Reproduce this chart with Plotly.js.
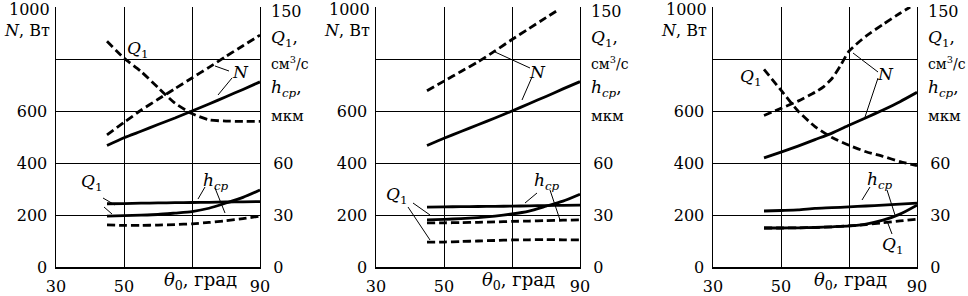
<!DOCTYPE html>
<html>
<head>
<meta charset="utf-8">
<script src="https://cdn.plot.ly/plotly-3.0.1.min.js"></script>
<style>html,body{margin:0;padding:0;background:#fff}#chart{width:968px;height:296px}</style>
</head>
<body>
<div id="chart"></div>
<script>
// ---- data (θ0, deg) ----
const theta = [45, 50, 55, 60, 65, 70, 75, 80, 85, 90];

// panel 1 (N in W on left axis; Q1 in cm3/s and h_cp in µm on right axis)
const p1_N_solid  = [467, 497, 522, 548, 573, 600, 627, 655, 683, 712];
const p1_N_dash   = [508, 556, 603, 645, 686, 727, 768, 810, 851, 892];
const p1_Q1_dash  = [130.2, 120.5, 112.8, 103.5, 94.5, 88.5, 84.9, 84.2, 84.0, 84.0];
const p1_Q1_solid = [36.5, 36.6, 36.8, 37.0, 37.1, 37.2, 37.3, 37.5, 37.6, 37.7];
const p1_h_solid  = [29.4, 29.6, 29.9, 30.3, 31.1, 32.0, 33.9, 36.9, 40.2, 44.4];
const p1_h_dash   = [24.3, 24.0, 24.0, 24.2, 24.5, 24.9, 25.7, 26.7, 27.9, 29.4];

// panel 2
const p2_N_solid  = [467, 495, 521, 547, 573, 600, 628, 656, 685, 713];
const p2_N_dash_x = [45, 50, 55, 60, 65, 70, 75, 80, 83.5];
const p2_N_dash   = [678, 715, 752, 789, 831, 875, 917, 959, 988];
const p2_Q1_solid = [27.2, 27.5, 27.9, 28.5, 29.4, 30.6, 32.3, 35.1, 38.0, 42.0];
const p2_h_solid  = [34.6, 34.7, 34.8, 34.9, 35.0, 35.1, 35.3, 35.4, 35.6, 35.7];
const p2_h_dash   = [25.4, 25.5, 25.6, 25.8, 26.0, 26.3, 26.5, 26.8, 27.0, 27.2];
const p2_Q1_dash  = [14.3, 14.4, 14.7, 15.0, 15.3, 15.6, 15.7, 15.8, 15.7, 15.6];

// panel 3
const p3_N_dash_x = [45, 50, 55, 60, 62.5, 65, 67.5, 70, 75, 80, 85, 88];
const p3_N_dash   = [583, 610, 638, 672, 693, 725, 775, 830, 888, 933, 976, 1000];
const p3_N_solid  = [420, 442, 465, 490, 515, 545, 574, 604, 636, 672];
const p3_Q1_dash  = [114, 102, 90, 81, 74.7, 70.2, 66.5, 63.8, 60.8, 58.5];
const p3_h_solid  = [32.3, 32.6, 32.9, 33.8, 34.2, 34.7, 35.2, 35.7, 36.3, 36.9];
const p3_Q1_solid = [22.5, 22.5, 22.6, 22.8, 23.2, 23.7, 24.8, 27.0, 30.5, 35.7];
const p3_h_dash   = [22.5, 22.5, 22.6, 22.8, 23.2, 23.7, 24.5, 25.5, 26.6, 27.6];

// tick labels
const xTickVals = [30, 50, 70, 90];
const xTickText = ['30', '50', '', '90'];
const leftTickVals = [0, 200, 400, 600, 800];
const leftTickText = ['0', '200', '400', '600', ''];
const leftTopLabel = '1000';
const rightTickVals = [0, 30, 60];
const rightTickText = ['0', '30', '60'];
const rightTopLabel = '150';

// ---- rendering ----
const W = 968, H = 296;
const FONT = 'DejaVu Serif';
const FS = 16;
const LW = 2.8;
const DASH = '8px,4px';

function tr(x, y, xa, ya, dashed, name) {
  return {
    x: x, y: y, xaxis: xa, yaxis: ya, name: name, mode: 'lines', type: 'scatter',
    line: {color: '#000', width: LW, dash: dashed ? DASH : 'solid', shape: 'spline', smoothing: 0.6},
    hoverinfo: 'skip', showlegend: false
  };
}

const data = [
  tr(theta, p1_N_solid, 'x', 'y', false, 'N'),
  tr(theta, p1_N_dash, 'x', 'y', true, 'N'),
  tr(theta, p1_Q1_dash, 'x', 'y2', true, 'Q1'),
  tr(theta, p1_Q1_solid, 'x', 'y2', false, 'Q1'),
  tr(theta, p1_h_solid, 'x', 'y2', false, 'h_cp'),
  tr(theta, p1_h_dash, 'x', 'y2', true, 'h_cp'),

  tr(theta, p2_N_solid, 'x2', 'y3', false, 'N'),
  tr(p2_N_dash_x, p2_N_dash, 'x2', 'y3', true, 'N'),
  tr(theta, p2_Q1_solid, 'x2', 'y4', false, 'Q1'),
  tr(theta, p2_h_solid, 'x2', 'y4', false, 'h_cp'),
  tr(theta, p2_h_dash, 'x2', 'y4', true, 'h_cp'),
  tr(theta, p2_Q1_dash, 'x2', 'y4', true, 'Q1'),

  tr(p3_N_dash_x, p3_N_dash, 'x3', 'y5', true, 'N'),
  tr(theta, p3_N_solid, 'x3', 'y5', false, 'N'),
  tr(theta, p3_Q1_dash, 'x3', 'y6', true, 'Q1'),
  tr(theta, p3_h_solid, 'x3', 'y6', false, 'h_cp'),
  tr(theta, p3_Q1_solid, 'x3', 'y6', false, 'Q1'),
  tr(theta, p3_h_dash, 'x3', 'y6', true, 'h_cp')
];

const leftPx = [56, 376, 713];
const rightPx = [260, 580, 917];
const yTop = 7, yBot = 267;
const font = {family: FONT, size: FS, color: '#000'};

function xa(i, anchor) {
  return {
    domain: [leftPx[i] / W, rightPx[i] / W], range: [30, 90], anchor: anchor,
    tickmode: 'array', tickvals: xTickVals, ticktext: xTickText,
    showgrid: true, gridcolor: '#000', gridwidth: 1, zeroline: false,
    showline: true, linecolor: '#000', linewidth: 1.5, ticks: '', ticklabelstandoff: 4,
    ticklabeloverflow: 'allow', tickfont: font, fixedrange: true
  };
}
function yl(anchor) {
  return {
    domain: [1 - yBot / H, 1 - yTop / H], range: [0, 1000], anchor: anchor,
    tickmode: 'array', tickvals: leftTickVals, ticktext: leftTickText,
    showgrid: true, gridcolor: '#000', gridwidth: 1, zeroline: false,
    showline: true, linecolor: '#000', linewidth: 1.5, ticks: '', ticklabelstandoff: 4,
    ticklabeloverflow: 'allow', tickfont: font, fixedrange: true
  };
}
function yr(over, anchor) {
  return {
    overlaying: over, side: 'right', anchor: anchor, range: [0, 150],
    tickmode: 'array', tickvals: rightTickVals, ticktext: rightTickText,
    showgrid: false, zeroline: false,
    showline: true, linecolor: '#000', linewidth: 1, ticks: '', ticklabelstandoff: 9,
    ticklabeloverflow: 'allow', tickfont: font, fixedrange: true
  };
}

const px = v => v / W, py = v => 1 - v / H;
function T(text, x, y, anchor, size) {
  return {text: text, x: px(x), y: py(y), xref: 'paper', yref: 'paper', showarrow: false,
          xanchor: anchor || 'center', yanchor: 'middle',
          font: {family: FONT, size: size || FS, color: '#000'}};
}
function L(x0, y0, x1, y1) {
  return {type: 'line', xref: 'paper', yref: 'paper', x0: px(x0), y0: py(y0), x1: px(x1), y1: py(y1),
          line: {color: '#000', width: 1}};
}

const Q1 = '<i>Q</i><sub>1</sub>';
const HCP = '<i>h</i><sub><i>cp</i></sub>';
const annotations = [];
const shapes = [];
const thetaCenters = [200, 518, 850];
for (let i = 0; i < 3; i++) {
  annotations.push(T(leftTopLabel, leftPx[i] - 4, 10, 'right'));
  annotations.push(T(rightTopLabel, rightPx[i] + 9, 11, 'left'));
  annotations.push(T('<i>N</i>, Вт', leftPx[i] - 4, 31, 'right'));
  const rx = rightPx[i] + 9;
  annotations.push(T(Q1 + ',', rx, 38, 'left', 17));
  annotations.push(T('см<sup>3</sup>/с', rx, 63, 'left', 14));
  annotations.push(T(HCP + ',', rx, 88, 'left', 17));
  annotations.push(T('мкм', rx, 116, 'left', 15));
  annotations.push(T('<i>θ</i><sub>0</sub>, град', thetaCenters[i], 281, 'center', 18));
}
// panel 1 curve labels
annotations.push(T(Q1, 138, 50, 'center', 17));
annotations.push(T('<i>N</i>', 240, 72, 'center', 17));
annotations.push(T(Q1, 92, 182, 'center', 17));
annotations.push(T(HCP, 216, 181, 'center', 17));
shapes.push(L(229, 71, 215, 66), L(232, 78, 218, 95));
shapes.push(L(103, 198, 115, 205), L(104, 207, 112, 214));
shapes.push(L(205, 187, 198, 199), L(215, 188, 225, 213));
// panel 2 curve labels
annotations.push(T('<i>N</i>', 537, 72, 'center', 17));
annotations.push(T(Q1, 397, 195, 'center', 17));
annotations.push(T(HCP, 547, 181, 'center', 17));
shapes.push(L(530, 68, 495, 52), L(532, 77, 522, 100));
shapes.push(L(413, 203, 430, 215), L(408, 207, 430, 240));
shapes.push(L(537, 193, 525, 203), L(550, 190, 560, 220));
// panel 3 curve labels
annotations.push(T(Q1, 751, 78, 'center', 17));
annotations.push(T('<i>N</i>', 885, 74, 'center', 17));
annotations.push(T(HCP, 880, 180, 'center', 17));
annotations.push(T(Q1, 893, 246, 'center', 17));
shapes.push(L(878, 72, 853, 53), L(878, 78, 865, 117));
shapes.push(L(870, 187, 862, 200), L(887, 190, 895, 215));
shapes.push(L(892, 234, 887, 221));

const layout = {
  width: W, height: H,
  margin: {l: 0, r: 0, t: 0, b: 0, pad: 0},
  paper_bgcolor: '#fff', plot_bgcolor: 'rgba(0,0,0,0)',
  font: font, showlegend: false,
  xaxis: xa(0, 'y'), xaxis2: xa(1, 'y3'), xaxis3: xa(2, 'y5'),
  yaxis: yl('x'), yaxis2: yr('y', 'x'),
  yaxis3: yl('x2'), yaxis4: yr('y3', 'x2'),
  yaxis5: yl('x3'), yaxis6: yr('y5', 'x3'),
  annotations: annotations, shapes: shapes
};

Plotly.newPlot('chart', data, layout, {staticPlot: true, displayModeBar: false});
</script>
</body>
</html>
